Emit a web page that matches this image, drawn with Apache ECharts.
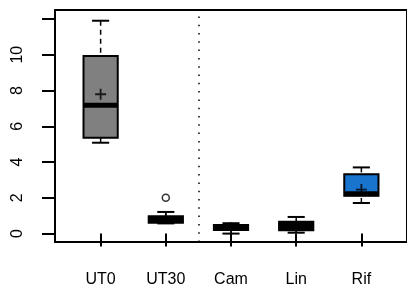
<!DOCTYPE html>
<html>
<head>
<meta charset="utf-8">
<script src="https://cdn.jsdelivr.net/npm/echarts@6/dist/echarts.min.js"></script>
<style>
  html, body { margin: 0; padding: 0; background: #fff; }
  #main { width: 407px; height: 293px; }
</style>
</head>
<body>
<div id="main"></div>
<script>
// box stats
var categories = ['UT0', 'UT30', 'Cam', 'Lin', 'Rif'];
var whiskerLow = [5.08, 0.57, 0.0, 0.05, 1.71];
var q1 = [5.36, 0.6, 0.2, 0.18, 2.12];
var median = [7.17, 0.75, 0.33, 0.38, 2.23];
var q3 = [9.93, 0.97, 0.48, 0.66, 3.32];
var whiskerHigh = [11.9, 1.21, 0.58, 0.93, 3.7];
var means = [7.79, 0.85, 0.33, 0.4, 2.46];
var outliers = [[2, 2.0]];
var yTicks = [0, 2, 4, 6, 8, 10, 12];
var yLabels = [0, 2, 4, 6, 8, 10];

var fills = ['#808080', '#000000', '#000000', '#000000', '#1874CD'];

var boxData = categories.map(function (c, i) {
  return [i + 1, whiskerLow[i], q1[i], median[i], q3[i], whiskerHigh[i]];
});
var meanData = means.map(function (m, i) { return [i + 1, m]; });

var chart = echarts.init(document.getElementById('main'));

function renderBox(params, api) {
  var x = api.value(0);
  var half = api.size([1, 0])[0] * 0.2625;
  var cap = half * 0.5;
  var pLo = api.coord([x, api.value(1)]);
  var pQ1 = api.coord([x, api.value(2)]);
  var pMed = api.coord([x, api.value(3)]);
  var pQ3 = api.coord([x, api.value(4)]);
  var pHi = api.coord([x, api.value(5)]);
  var cx = pLo[0];
  var black = { stroke: '#000', lineWidth: 2, fill: null };
  var dash = { stroke: '#000', lineWidth: 1.5, lineDash: [5, 4], fill: null };
  return {
    type: 'group',
    children: [
      { type: 'line', shape: { x1: cx, y1: pHi[1], x2: cx, y2: pQ3[1] }, style: dash },
      { type: 'line', shape: { x1: cx, y1: pLo[1], x2: cx, y2: pQ1[1] }, style: dash },
      { type: 'line', shape: { x1: cx - cap, y1: pHi[1], x2: cx + cap, y2: pHi[1] }, style: black },
      { type: 'line', shape: { x1: cx - cap, y1: pLo[1], x2: cx + cap, y2: pLo[1] }, style: black },
      {
        type: 'rect',
        shape: { x: cx - half, y: pQ3[1], width: half * 2, height: pQ1[1] - pQ3[1] },
        style: { fill: fills[params.dataIndex], stroke: '#000', lineWidth: 2 }
      },
      { type: 'line', shape: { x1: cx - half, y1: pMed[1], x2: cx + half, y2: pMed[1] }, style: { stroke: '#000', lineWidth: 5 } }
    ]
  };
}

var option = {
  animation: false,
  grid: {
    left: 55, right: -8, top: 10, bottom: 51,
    show: true, borderColor: '#000', borderWidth: 2
  },
  xAxis: {
    type: 'value', min: 0.3, max: 5.7,
    axisLine: { show: false },
    splitLine: { show: false },
    axisTick: { show: true, customValues: [1, 2, 3, 4, 5], length: 13, lineStyle: { color: '#000', width: 2 } },
    axisLabel: {
      customValues: [1, 2, 3, 4, 5], margin: 30,
      fontFamily: 'Liberation Sans', fontSize: 16, color: '#000',
      formatter: function (v) { return categories[Math.round(v) - 1]; }
    }
  },
  yAxis: {
    type: 'value', min: -0.47, max: 12.5,
    axisLine: { show: false },
    splitLine: { show: false },
    axisTick: { show: true, customValues: yTicks, length: 13, lineStyle: { color: '#000', width: 2 } },
    axisLabel: {
      customValues: yLabels, rotate: 90, margin: 29,
      fontFamily: 'Liberation Sans', fontSize: 16, color: '#000'
    }
  },
  series: [
    {
      type: 'custom',
      renderItem: renderBox,
      data: boxData,
      encode: { x: 0, y: [1, 2, 3, 4, 5] },
      markLine: {
        silent: true,
        symbol: ['none', 'none'],
        label: { show: false },
        lineStyle: { color: '#000', width: 1.5, type: [1.5, 6.8] },
        data: [{ xAxis: 2.5 }]
      }
    },
    {
      type: 'scatter',
      data: meanData,
      symbol: 'path://M5,0H7V5H12V7H7V12H5V7H0V5H5Z',
      symbolSize: 11,
      itemStyle: { color: '#000' }
    },
    {
      type: 'scatter',
      data: outliers,
      symbol: 'circle',
      symbolSize: 7,
      itemStyle: { color: '#fff', borderColor: '#000', borderWidth: 1.5 }
    }
  ]
};

chart.setOption(option);
</script>
</body>
</html>
